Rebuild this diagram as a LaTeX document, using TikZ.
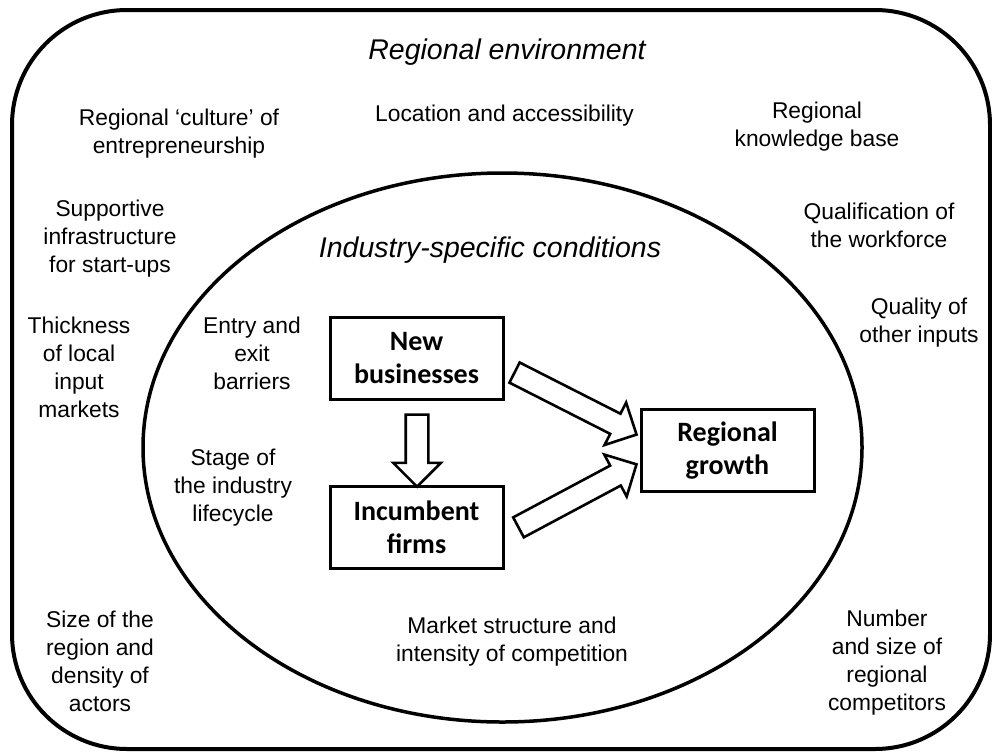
\documentclass[tikz,border=0pt]{standalone}
\usepackage{fontspec}
\setmainfont{Liberation Sans}
\newfontfamily\boxfont{Carlito}
\usetikzlibrary{shapes.arrows,calc}
\tikzset{
  lbl/.style={align=center, inner sep=0pt, font=\fontsize{22.8}{28}\selectfont},
  ttl/.style={inner sep=0pt, font=\fontsize{28.5}{33}\selectfont\itshape},
  boxn/.style={draw, line width=3pt, minimum width=173pt, minimum height=82pt, inner sep=0pt, align=center, font=\boxfont\bfseries\fontsize{28}{33}\selectfont},
  barrow/.style={single arrow, draw, line width=2.6pt, fill=white, inner xsep=0pt, inner ysep=10pt, text height=0pt, text depth=0pt, text width=0pt, minimum width=0pt, single arrow head extend=12.5pt, single arrow tip angle=90, anchor=center}
}
\newcommand\blockarr[2]{%
  \path let \p1=(#1), \p2=(#2), \n1={atan2(\y2-\y1,\x2-\x1)}, \n2={veclen(\x2-\x1,\y2-\y1)} in
    node[barrow, minimum height=\n2, rotate=\n1] at ($(#1)!0.5!(#2)$) {};}
\begin{document}
\begin{tikzpicture}[x=1pt,y=-1pt]
\useasboundingbox (0,0) rectangle (992,753);
% outer frame
\draw[line width=4pt, rounded corners=115pt] (12,10) rectangle (990,749);
% ellipse
\draw[line width=3.5pt] (502.5,447.5) ellipse [x radius=359.5, y radius=274.5];
% titles
\node[ttl] (tre) at (507,52) {Regional environment};
\node[ttl] (tis) at (490,250) {Industry-specific conditions};
% regional factors
\node[lbl] (cul) at (179,134) {Regional ‘culture’ of\\entrepreneurship};
\node[lbl] (loc) at (504.5,116) {Location and accessibility};
\node[lbl] (kno) at (817,127) {Regional\\knowledge base};
\node[lbl] (sup) at (110,239) {Supportive\\infrastructure\\for start-ups};
\node[lbl] (qua) at (879,225) {Qualification of\\the workforce};
\node[lbl] (qoi) at (919,323) {Quality of\\other inputs};
\node[lbl] (thi) at (79,367) {Thickness\\of local\\input\\markets};
\node[lbl] (siz) at (100,661) {Size of the\\region and\\density of\\actors};
\node[lbl] (num) at (887,663) {Number\\and size of\\regional\\competitors};
% industry factors
\node[lbl] (ent) at (252,353) {Entry and\\exit\\barriers};
\node[lbl] (sta) at (233,488) {Stage of\\the industry\\lifecycle};
\node[lbl] (mar) at (512,642) {Market structure and\\intensity of competition};
% boxes
\node[boxn] (nb) at (416.5,358.5) {New\\businesses};
\node[boxn] (inc) at (416.5,527.5) {Incumbent\\firms};
\node[boxn] (rg) at (727.5,450.5) {Regional\\growth};
% arrow end points
\coordinate (a1s) at ($(nb.east)+(5,11.5)$);
\coordinate (a1e) at ($(rg.west)+(-8,-18.5)$);
\coordinate (a2s) at ($(inc.east)+(9,2.5)$);
\coordinate (a2e) at ($(rg.west)+(-8,16.5)$);
\coordinate (a3s) at ($(nb.south)+(0.5,8)$);
\coordinate (a3e) at ($(inc.north)+(0.5,-4)$);
\blockarr{a1s}{a1e}
\blockarr{a2s}{a2e}
\blockarr{a3s}{a3e}
\end{tikzpicture}
\end{document}
